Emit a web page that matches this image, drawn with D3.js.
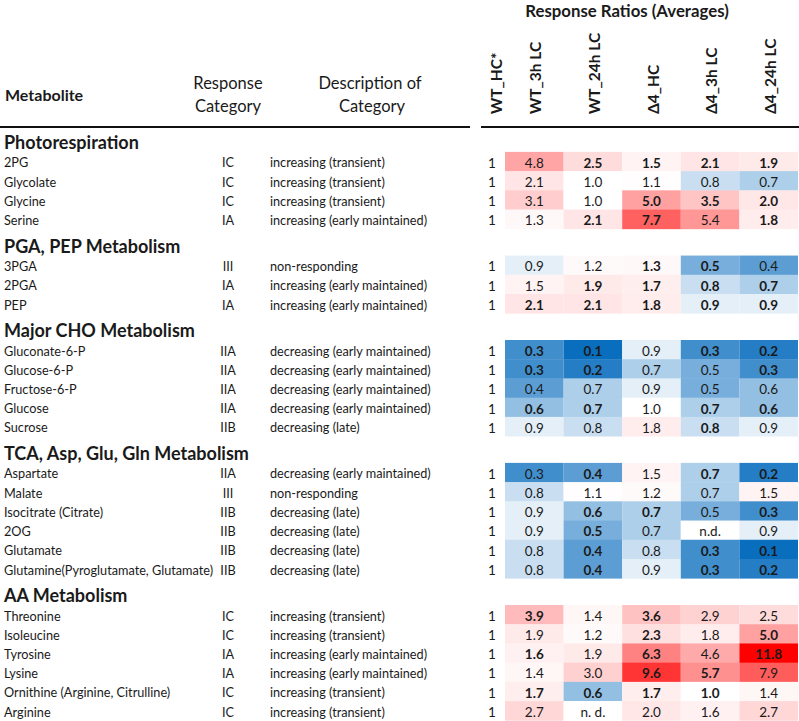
<!DOCTYPE html>
<html><head><meta charset="utf-8">
<script src="https://cdn.jsdelivr.net/npm/d3@7"></script>
<style>
body{margin:0;background:#fff}
svg{display:block}
text{font-family:Lato,"Open Sans",sans-serif;fill:#1a1a1a}
</style>
</head><body>
<svg id="chart" width="799" height="721"></svg>
<script>
// ---------- data ----------
const groups = ["Photorespiration","PGA, PEP Metabolism","Major CHO Metabolism","TCA, Asp, Glu, Gln Metabolism","AA Metabolism"];
const metabolites = ["2PG","Glycolate","Glycine","Serine","3PGA","2PGA","PEP","Gluconate-6-P","Glucose-6-P","Fructose-6-P","Glucose","Sucrose","Aspartate","Malate","Isocitrate (Citrate)","2OG","Glutamate","Glutamine(Pyroglutamate, Glutamate)","Threonine","Isoleucine","Tyrosine","Lysine","Ornithine (Arginine, Citrulline)","Arginine"];
const groupIndex = [0,0,0,0,1,1,1,2,2,2,2,2,3,3,3,3,3,3,4,4,4,4,4,4];
const responseCategories = ["IC","IC","IC","IA","III","IA","IA","IIA","IIA","IIA","IIA","IIB","IIA","III","IIB","IIB","IIB","IIB","IC","IC","IA","IA","IC","IC"];
const categoryDescriptions = ["increasing (transient)","increasing (transient)","increasing (transient)","increasing (early maintained)","non-responding","increasing (early maintained)","increasing (early maintained)","decreasing (early maintained)","decreasing (early maintained)","decreasing (early maintained)","decreasing (early maintained)","decreasing (late)","decreasing (early maintained)","non-responding","decreasing (late)","decreasing (late)","decreasing (late)","decreasing (late)","increasing (transient)","increasing (transient)","increasing (early maintained)","increasing (early maintained)","increasing (transient)","increasing (transient)"];
const columns = ["WT_HC*","WT_3h LC","WT_24h LC","Δ4_HC","Δ4_3h LC","Δ4_24h LC"];
const wtHC      = [1,1,1,1, 1,1,1, 1,1,1,1,1, 1,1,1,1,1,1, 1,1,1,1,1,1];
const wt3h      = [4.8,2.1,3.1,1.3, 0.9,1.5,2.1, 0.3,0.3,0.4,0.6,0.9, 0.3,0.8,0.9,0.9,0.8,0.8, 3.9,1.9,1.6,1.4,1.7,2.7];
const wt3hBold  = [0,0,0,0, 0,0,1, 1,1,0,1,0, 0,0,0,0,0,0, 1,0,1,0,1,0];
const wt24h     = [2.5,1.0,1.0,2.1, 1.2,1.9,2.1, 0.1,0.2,0.7,0.7,0.8, 0.4,1.1,0.6,0.5,0.4,0.4, 1.4,1.2,1.9,3.0,0.6,"n. d."];
const wt24hBold = [1,0,0,1, 0,1,1, 1,1,0,1,0, 1,0,1,1,1,1, 0,0,0,0,1,0];
const d4HC      = [1.5,1.1,5.0,7.7, 1.3,1.7,1.8, 0.9,0.7,0.9,1.0,1.8, 1.5,1.2,0.7,0.7,0.8,0.9, 3.6,2.3,6.3,9.6,1.7,2.0];
const d4HCBold  = [1,0,1,1, 1,1,1, 0,0,0,0,0, 0,0,1,0,0,0, 1,1,1,1,1,0];
const d43h      = [2.1,0.8,3.5,5.4, 0.5,0.8,0.9, 0.3,0.5,0.5,0.7,0.8, 0.7,0.7,0.5,"n.d.",0.3,0.3, 2.9,1.8,4.6,5.7,1.0,1.6];
const d43hBold  = [1,0,1,0, 1,1,1, 1,0,0,1,1, 1,0,0,0,1,1, 0,0,0,1,1,0];
const d424h     = [1.9,0.7,2.0,1.8, 0.4,0.7,0.9, 0.2,0.3,0.6,0.6,0.9, 0.2,1.5,0.3,0.9,0.1,0.2, 2.5,5.0,11.8,7.9,1.4,2.7];
const d424hBold = [1,0,1,1, 0,1,1, 1,1,0,1,0, 1,0,1,0,1,1, 0,1,1,0,0,0];

// ---------- layout ----------
const svg = d3.select("#chart");
const W = 799;
const series = [wt3h, wt24h, d4HC, d43h, d424h];
const seriesBold = [wt3hBold, wt24hBold, d4HCBold, d43hBold, d424hBold];
const heatCols = columns.slice(1);

const x = d3.scaleBand().domain(heatCols).range([505, 798]).paddingInner(0).paddingOuter(0);
const xBase = x(heatCols[0]) - 13;   // baseline (WT_HC*) column centre

const groupGap = 1.394;
const slot = metabolites.map((m, i) => i + groupIndex[i] * groupGap);
const y = d3.scaleLinear().domain([0, d3.max(slot)]).range([163, 712.2]);
const rowH = y(1) - y(0);

const numeric = series.flat().filter(v => typeof v === "number");
const color = d3.scaleLinear()
  .domain([d3.min(numeric), 1, d3.max(numeric)])
  .range(["#0a6ebe", "#ffffff", "#ff0000"]);

// ---------- headers ----------
svg.append("text").attr("x", 627).attr("y", 11).attr("dy", "0.35em")
  .attr("text-anchor", "middle").attr("font-weight", 700).attr("font-size", 16.8)
  .text("Response Ratios (Averages)");

svg.append("text").attr("x", 5).attr("y", 95).attr("dy", "0.35em")
  .attr("font-weight", 700).attr("font-size", 16).text("Metabolite");

const hdr2 = svg.append("text").attr("text-anchor", "middle").attr("font-size", 16.5);
hdr2.append("tspan").attr("x", 228).attr("y", 83).attr("dy", "0.35em").text("Response");
hdr2.append("tspan").attr("x", 228).attr("y", 106).attr("dy", "0.35em").text("Category");
const hdr3 = svg.append("text").attr("text-anchor", "middle").attr("font-size", 16.5);
hdr3.append("tspan").attr("x", 370).attr("y", 83).attr("dy", "0.35em").text("Description of");
hdr3.append("tspan").attr("x", 372).attr("y", 106).attr("dy", "0.35em").text("Category");

const colCenters = columns.map((c, i) => i === 0 ? xBase + 4 : x(c) + x.bandwidth() / 2 + 1);
svg.selectAll("text.colhead").data(columns).join("text")
  .attr("class", "colhead")
  .attr("transform", (d, i) => `translate(${colCenters[i] + 6},114) rotate(-90)`)
  .attr("font-weight", 700).attr("font-size", 15.5)
  .text(d => d);

// rules
svg.append("line").attr("x1", 0).attr("x2", 470).attr("y1", 127).attr("y2", 127)
  .attr("stroke", "#111").attr("stroke-width", 2);
svg.append("line").attr("x1", 481).attr("x2", W).attr("y1", 127).attr("y2", 127)
  .attr("stroke", "#111").attr("stroke-width", 2);

// group headers
const firstRowOfGroup = groups.map((g, gi) => groupIndex.indexOf(gi));
svg.selectAll("text.group").data(groups).join("text")
  .attr("class", "group")
  .attr("x", 4).attr("y", (d, gi) => y(slot[firstRowOfGroup[gi]]) - 20).attr("dy", "0.35em")
  .attr("font-weight", 700).attr("font-size", 18)
  .text(d => d);

// ---------- rows ----------
const rows = svg.selectAll("g.row").data(metabolites).join("g")
  .attr("class", "row")
  .attr("transform", (d, i) => `translate(0,${y(slot[i])})`);

rows.append("text").attr("x", 4).attr("dy", "0.35em").attr("font-size", 12.7).text(d => d);
rows.append("text").attr("x", 228).attr("dy", "0.35em").attr("text-anchor", "middle")
  .attr("font-size", 12.7).text((d, i) => responseCategories[i]);
rows.append("text").attr("x", 270).attr("dy", "0.35em")
  .attr("font-size", 12.7).text((d, i) => categoryDescriptions[i]);
rows.append("text").attr("x", xBase).attr("dy", "0.35em").attr("text-anchor", "middle")
  .attr("font-size", 13.5).text((d, i) => wtHC[i]);

const fmt = d3.format(".1f");
heatCols.forEach((c, ci) => {
  const vals = series[ci];
  rows.append("rect")
    .attr("x", x(c)).attr("width", x.bandwidth())
    .attr("y", -rowH / 2 - 1.5).attr("height", rowH + 0.4)
    .attr("fill", (d, i) => typeof vals[i] === "number" ? color(vals[i]) : "#ffffff");
  rows.append("text")
    .attr("x", x(c) + x.bandwidth() / 2).attr("dy", "0.35em").attr("text-anchor", "middle")
    .attr("font-size", 13.5)
    .attr("font-weight", (d, i) => seriesBold[ci][i] ? 700 : 400)
    .text((d, i) => typeof vals[i] === "number" ? fmt(vals[i]) : vals[i]);
});
</script>
</body></html>
